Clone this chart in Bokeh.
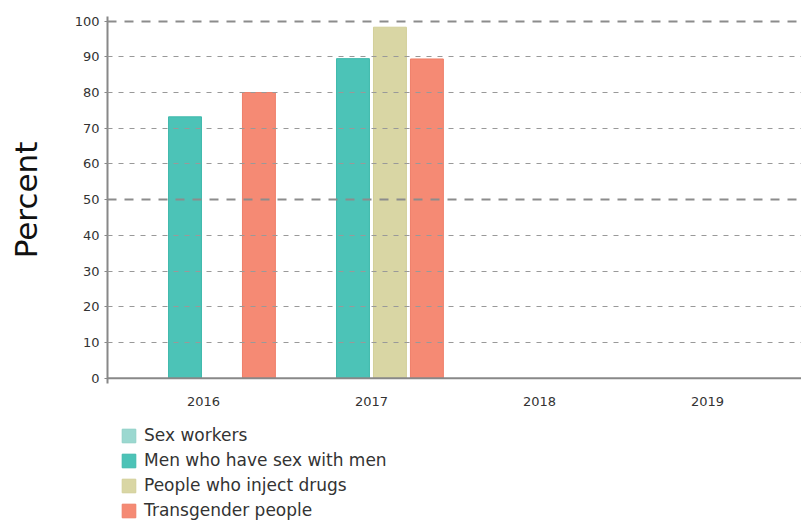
import math
from bokeh.plotting import figure
from bokeh.layouts import column
from bokeh.models import FixedTicker, Grid, Span, Legend, LegendItem, ColumnDataSource
from bokeh.embed import file_html
from bokeh.resources import INLINE

nan = float("nan")

years = ["2016", "2017", "2018", "2019"]
series_names = ["Sex workers", "Men who have sex with men", "People who inject drugs", "Transgender people"]
sex_workers = [nan, nan, nan, nan]
msm = [73.2, 89.5, nan, nan]
pwid = [nan, 98.3, nan, nan]
transgender = [80.0, 89.4, nan, nan]
colors = ["#9bd8d0", "#4cc3b7", "#d9d6a4", "#f58a74"]
line_colors = ["#8fd0c7", "#3fb9ac", "#d2cf99", "#ee7f69"]
y_ticks = [0, 10, 20, 30, 40, 50, 60, 70, 80, 90, 100]

FONT = "DejaVu Sans"

p = figure(width=801, height=408, output_backend="svg", toolbar_location=None,
           x_range=(-0.5714, 3.56), y_range=(-1.5, 101.3),
           min_border_left=107, min_border_top=16, min_border_right=0, min_border_bottom=25)
p.outline_line_color = None
p.background_fill_color = "white"
p.border_fill_color = "white"

offsets = [-0.33, -0.11, 0.11, 0.33]
bar_w = 0.196
for name, vals, off, c, lc in zip(series_names, [sex_workers, msm, pwid, transgender], offsets, colors, line_colors):
    src = ColumnDataSource(dict(x=[i + off for i in range(len(years))], top=vals))
    p.vbar(x="x", top="top", bottom=0, width=bar_w, source=src,
           fill_color=c, line_color=lc, line_width=1)

# grids
p.xgrid.visible = False
p.ygrid.ticker = FixedTicker(ticks=[10, 20, 30, 40, 60, 70, 80, 90])
p.ygrid.grid_line_color = "#999999"
p.ygrid.grid_line_width = 1
p.ygrid.grid_line_dash = "5 6"
p.ygrid.level = "guide"
g2 = Grid(dimension=1, ticker=FixedTicker(ticks=[50, 100]), grid_line_color="#8c8c8c",
          grid_line_width=2, grid_line_dash="9 8", level="guide")
p.add_layout(g2)

# y axis
p.yaxis.ticker = FixedTicker(ticks=y_ticks)
p.yaxis.axis_line_color = "#888888"
p.yaxis.axis_line_width = 2
p.yaxis.major_tick_line_color = "#888888"
p.yaxis.major_tick_in = 0
p.yaxis.major_tick_out = 3
p.yaxis.minor_tick_line_color = None
p.yaxis.major_label_standoff = 5
p.yaxis.major_label_text_font = FONT
p.yaxis.major_label_text_font_size = "13px"
p.yaxis.major_label_text_color = "#333333"
p.yaxis.axis_label = "Percent"
p.yaxis.axis_label_text_font = FONT
p.yaxis.axis_label_text_font_size = "31px"
p.yaxis.axis_label_text_font_style = "normal"
p.yaxis.axis_label_text_color = "#111111"
p.yaxis.axis_label_standoff = 28

# x axis
p.xaxis.ticker = FixedTicker(ticks=list(range(len(years))))
p.xaxis.major_label_overrides = {i: y for i, y in enumerate(years)}
p.xaxis.axis_line_color = None
p.xaxis.major_tick_line_color = None
p.xaxis.minor_tick_line_color = None
p.xaxis.major_label_standoff = 7
p.xaxis.major_label_text_font = FONT
p.xaxis.major_label_text_font_size = "13px"
p.xaxis.major_label_text_color = "#333333"

zero = Span(location=0, dimension="width", line_color="#888888", line_width=2)
p.add_layout(zero)

# legend strip below the chart (its renderers carry a single empty sample for the swatch style)
lg = figure(width=801, height=112, output_backend="svg", toolbar_location=None,
            x_axis_location=None, y_axis_location=None,
            x_range=(0, 1), y_range=(0, 1),
            min_border_left=0, min_border_top=0, min_border_right=0, min_border_bottom=0)
lg.outline_line_color = None
lg.grid.visible = False
items = []
for name, c, lc in zip(series_names, colors, line_colors):
    r = lg.vbar(x="x", top="top", bottom=0, width=0.1,
                source=ColumnDataSource(dict(x=[0.5], top=[nan])),
                fill_color=c, line_color=lc, line_width=1)
    items.append(LegendItem(label=name, renderers=[r]))

legend = Legend(items=items, location=(13, 0), orientation="vertical",
                glyph_width=17, glyph_height=17, label_height=17, spacing=5,
                label_standoff=7, padding=0, margin=0,
                border_line_color=None, background_fill_alpha=0,
                label_text_font=FONT, label_text_font_size="17px",
                label_text_color="#333333")
lg.add_layout(legend)

layout = column(p, lg, spacing=0)
open("out.html", "w").write(file_html(layout, INLINE))
